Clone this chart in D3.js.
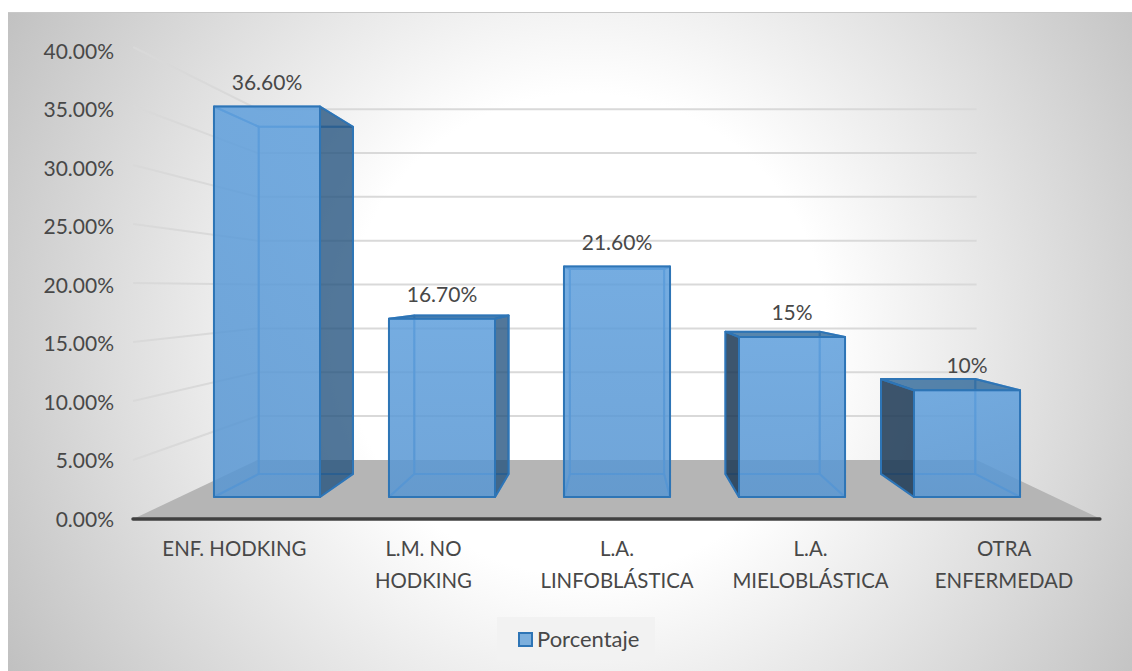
<!DOCTYPE html>
<html>
<head>
<meta charset="utf-8">
<script src="https://cdn.jsdelivr.net/npm/d3@7/dist/d3.min.js"></script>
<style>
  html, body { margin: 0; padding: 0; background: #fff; overflow: hidden; }
  text { font-family: Lato, "Open Sans", sans-serif; fill: #484848; }
</style>
</head>
<body>
<div id="chart"></div>
<script>
const categories = ["ENF. HODKING", "L.M. NO HODKING", "L.A. LINFOBLÁSTICA", "L.A. MIELOBLÁSTICA", "OTRA ENFERMEDAD"];
const categoryLines = [["ENF. HODKING"], ["L.M. NO", "HODKING"], ["L.A.", "LINFOBLÁSTICA"], ["L.A.", "MIELOBLÁSTICA"], ["OTRA", "ENFERMEDAD"]];
const values = [36.6, 16.7, 21.6, 15, 10];
const valueLabels = ["36.60%", "16.70%", "21.60%", "15%", "10%"];
const yTicks = [0, 5, 10, 15, 20, 25, 30, 35, 40];
const seriesName = "Porcentaje";

const width = 1132, height = 671;

// the 3d box: everything is drawn on the bar front plane, then pushed to a depth toward the vanishing point
const vanish = { x: 617, y: 289 };
const depth = { edge: 1.106, front: 1, back: 0.889, wall: 0.822 };

const x = d3.scaleBand().domain(categories)
  .range([179.5, 1054.5])
  .paddingInner(0.394).paddingOuter(0.197);
const y = d3.scaleLinear().domain([0, 40]).range([497, 70.2]);

function project(px, value, s) {
  return [vanish.x + (px - vanish.x) * s, vanish.y + (y(value) - vanish.y) * s];
}

const svg = d3.select("#chart").append("svg")
  .attr("width", width).attr("height", height)
  .style("display", "block");

const defs = svg.append("defs");
const grad = defs.append("radialGradient").attr("id", "bg")
  .attr("gradientUnits", "userSpaceOnUse")
  .attr("cx", 585).attr("cy", 335).attr("r", 670);
grad.append("stop").attr("offset", "0.36").attr("stop-color", "#ffffff");
grad.append("stop").attr("offset", "1").attr("stop-color", "#c0c0c0");

const barGrad = defs.append("linearGradient").attr("id", "barFront")
  .attr("x1", 0).attr("y1", 0).attr("x2", 0).attr("y2", 1);
barGrad.append("stop").attr("offset", "0").attr("stop-color", "#5f9fdc");
barGrad.append("stop").attr("offset", "1").attr("stop-color", "#5896d2");

svg.append("rect").attr("x", 8).attr("y", 12)
  .attr("width", width - 8).attr("height", height - 12)
  .attr("fill", "url(#bg)");
svg.append("line").attr("x1", 8).attr("x2", width).attr("y1", 12.5).attr("y2", 12.5)
  .attr("stroke", "#c8c8c8").attr("stroke-width", 1);

const line = d3.line();
const left = x.range()[0], right = x.range()[1];

// floor
svg.append("path")
  .attr("d", line([
    project(left, 0, depth.edge), project(left, 0, depth.wall),
    project(right, 0, depth.wall), project(right, 0, depth.edge)
  ]) + "Z")
  .attr("fill", "#b5b5b5");

// gridlines: back wall and left wall
const grid = svg.append("g").attr("fill", "none").attr("stroke", "#d9d9d9").attr("stroke-width", 2);
yTicks.filter(t => t > 0).forEach(t => {
  grid.append("path").attr("d", line([
    project(left, t, depth.edge), project(left, t, depth.wall), project(right, t, depth.wall)
  ]));
});

// bars
const bars = svg.append("g").selectAll("g").data(categories).join("g");
bars.each(function (c, i) {
  const g = d3.select(this);
  const v = values[i];
  const x0 = x(c), x1 = x(c) + x.bandwidth();

  const f = (px, val) => project(px, val, depth.front);
  const b = (px, val) => project(px, val, depth.back);

  function face(points, fill, opacity, stroke, strokeOpacity) {
    g.append("path").attr("d", line(points) + "Z")
      .attr("fill", fill).attr("fill-opacity", opacity)
      .attr("stroke", stroke).attr("stroke-opacity", strokeOpacity === undefined ? 1 : strokeOpacity)
      .attr("stroke-width", 2).attr("stroke-linejoin", "round");
  }

  const inner = "#4a90d6";
  // hidden faces first
  face([b(x0, 0), b(x1, 0), b(x1, v), b(x0, v)], "#5b9bd5", 0.12, inner, 0.75);
  face([f(x0, 0), f(x1, 0), b(x1, 0), b(x0, 0)], "#5b9bd5", 0.12, inner, 0.75);

  const topVisible = y(v) > vanish.y;
  const rightVisible = x1 < vanish.x;
  const leftVisible = x0 > vanish.x;

  if (!leftVisible) face([f(x0, 0), b(x0, 0), b(x0, v), f(x0, v)], "#5b9bd5", 0.12, inner, 0.75);
  if (!rightVisible) face([f(x1, 0), b(x1, 0), b(x1, v), f(x1, v)], "#5b9bd5", 0.12, inner, 0.75);
  if (!topVisible) face([f(x0, v), f(x1, v), b(x1, v), b(x0, v)], "#5b9bd5", 0.12, inner, 0.75);

  if (rightVisible) face([f(x1, 0), b(x1, 0), b(x1, v), f(x1, v)], "#1f4e79", 0.75, "#2e75b6");
  if (leftVisible) face([f(x0, 0), b(x0, 0), b(x0, v), f(x0, v)], "#1f3a55", 0.85, "#2e75b6");
  if (topVisible) face([f(x0, v), f(x1, v), b(x1, v), b(x0, v)], "#2e6797", 0.78, "#2e75b6");

  face([f(x0, 0), f(x1, 0), f(x1, v), f(x0, v)], "url(#barFront)", 0.84, "#2e75b6");
});

// front edge of the floor acts as the axis line
const axisY = project(left, 0, depth.edge)[1];
svg.append("path")
  .attr("d", line([[133, axisY], [project(right, 0, depth.edge)[0] - 1, axisY]]))
  .attr("fill", "none").attr("stroke", "#404040").attr("stroke-width", 3.5)
  .attr("stroke-linecap", "round");

// value axis, labels sit on the front edge of the left wall
const yFront = d3.scaleLinear().domain([0, 40]).range([519, 51]);
const yAxis = d3.axisLeft(yFront).tickValues(yTicks).tickSize(0)
  .tickFormat(d => d3.format(".2f")(d) + "%");
const yG = svg.append("g").attr("transform", "translate(114,0)").call(yAxis);
yG.select(".domain").remove();
yG.selectAll("text").attr("font-size", 21).attr("x", 0).attr("dy", "0.35em");

// data labels
svg.append("g").selectAll("text").data(categories).join("text")
  .attr("x", d => x(d) + x.bandwidth() / 2)
  .attr("y", (d, i) => y(values[i]) - (i === 0 ? 16 : 17))
  .attr("text-anchor", "middle")
  .attr("font-size", 21)
  .text((d, i) => valueLabels[i]);

// category labels, the single line one sits a little off the band centre in the original
const cats = svg.append("g").selectAll("text").data(categories).join("text")
  .attr("text-anchor", "middle")
  .attr("font-size", 20.4);
cats.each(function (d, i) {
  const cx = project(x(d) + x.bandwidth() / 2, 0, depth.edge)[0] + (i === 0 ? 4.5 : 0);
  d3.select(this).selectAll("tspan").data(categoryLines[i]).join("tspan")
    .attr("x", cx)
    .attr("y", (l, k) => 556 + k * 32)
    .text(l => l);
});

// legend
const legend = svg.append("g");
legend.append("rect").attr("x", 497).attr("y", 617).attr("width", 158).attr("height", 43)
  .attr("fill", "#f2f2f2");
legend.append("rect").attr("x", 519).attr("y", 633).attr("width", 13).attr("height", 13)
  .attr("fill", "#7cafdd").attr("stroke", "#2e75b6").attr("stroke-width", 2);
legend.append("text").attr("x", 537).attr("y", 647).attr("font-size", 22).text(seriesName);
</script>
</body>
</html>
